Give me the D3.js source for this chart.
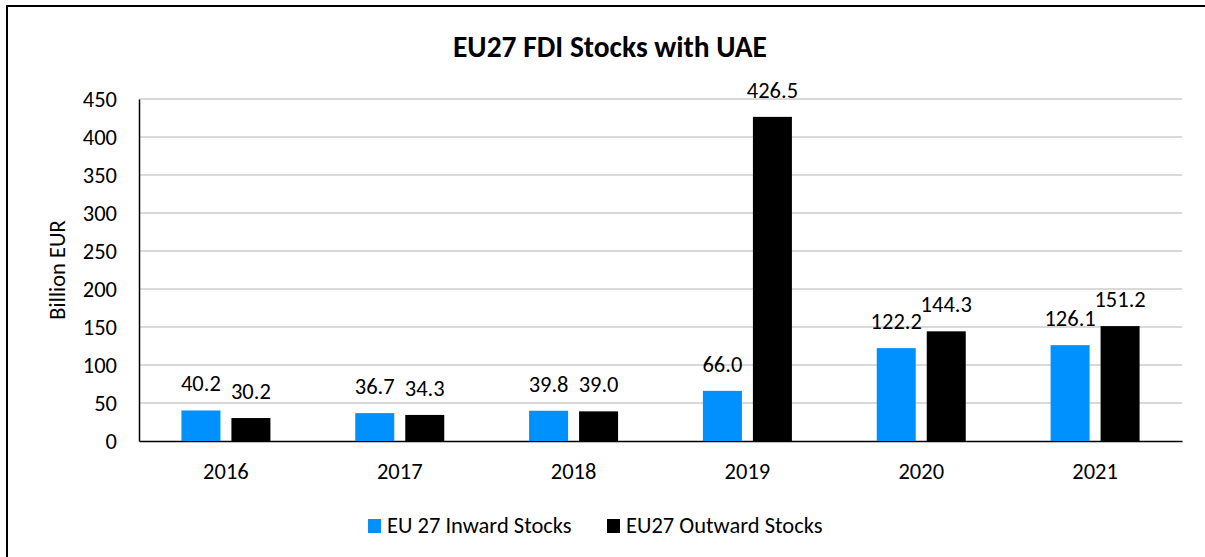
<!DOCTYPE html>
<html>
<head>
<meta charset="utf-8">
<script src="https://cdn.jsdelivr.net/npm/d3@7"></script>
<style>
  html, body { margin: 0; padding: 0; background: #fff; }
  svg text { font-family: Carlito, Calibri, Lato, sans-serif; fill: #000; }
</style>
</head>
<body>
<div class="Chart"></div>
<script>
var years = ["2016", "2017", "2018", "2019", "2020", "2021"];
var inward = [40.2, 36.7, 39.8, 66.0, 122.2, 126.1];
var outward = [30.2, 34.3, 39.0, 426.5, 144.3, 151.2];
var seriesNames = ["EU 27 Inward Stocks", "EU27 Outward Stocks"];
var seriesColors = ["#0091ff", "#000000"];
var yTicks = [0, 50, 100, 150, 200, 250, 300, 350, 400, 450];

var width = 1205, height = 557;
var margin = {left: 139, right: 23, top: 99, bottom: 116};

var svg = d3.select('.Chart').append('svg')
	.attr('width', width)
	.attr('height', height);

// outer frame (right and bottom edges fall outside the picture)
svg.append('rect')
	.attr('x', 7).attr('y', 6)
	.attr('width', 1230).attr('height', 600)
	.style('fill', 'none')
	.style('stroke', '#000')
	.style('stroke-width', 2);

var x = d3.scaleBand()
	.domain(years)
	.range([margin.left, width - margin.right]);

var y = d3.scaleLinear()
	.domain([0, 450])
	.range([height - margin.bottom, margin.top]);

//gridlines
svg.append('g').selectAll('line')
	.data(yTicks.slice(1))
	.enter().append('line')
	.attr('x1', margin.left).attr('x2', width - margin.right)
	.attr('y1', function(d) { return y(d); })
	.attr('y2', function(d) { return y(d); })
	.style('stroke', '#d9d9d9')
	.style('stroke-width', 2);

//y axis
var yAxis = svg.append('g')
	.attr('transform', 'translate(' + margin.left + ',0)')
	.call(d3.axisLeft(y).tickValues(yTicks).tickSize(0).tickPadding(22));
yAxis.select('.domain').style('stroke', '#000').style('stroke-width', 1.5);
yAxis.selectAll('text').style('font-size', '22.5px').attr('dy', '0.35em');

//x axis
var xAxis = svg.append('g')
	.attr('transform', 'translate(0,' + y(0) + ')')
	.call(d3.axisBottom(x).tickSize(0).tickPadding(22));
xAxis.select('.domain').style('stroke', '#000').style('stroke-width', 1.5);
xAxis.selectAll('text').style('font-size', '22.5px');

var barW = 39, gap = 11;
var offsets = [-(barW + gap) / 2, (barW + gap) / 2];

[inward, outward].forEach(function(values, s) {
	var g = svg.append('g');
	g.selectAll('rect')
		.data(values)
		.enter().append('rect')
		.attr('x', function(d, i) { return x(years[i]) + x.bandwidth() / 2 + offsets[s] - barW / 2; })
		.attr('y', function(d) { return y(d); })
		.attr('width', barW)
		.attr('height', function(d) { return y(0) - y(d); })
		.style('fill', seriesColors[s]);

	g.selectAll('text')
		.data(values)
		.enter().append('text')
		.attr('x', function(d, i) { return x(years[i]) + x.bandwidth() / 2 + offsets[s]; })
		.attr('y', function(d) { return y(d) - 19; })
		.attr('text-anchor', 'middle')
		.style('font-size', '22.5px')
		.text(function(d) { return d.toFixed(1); });
});

//title
svg.append('text')
	.attr('x', 610).attr('y', 57)
	.attr('text-anchor', 'middle')
	.style('font-size', '29.5px')
	.style('font-weight', 'bold')
	.text('EU27 FDI Stocks with UAE');

//y axis label
svg.append('text')
	.attr('transform', 'translate(65,270) rotate(-90)')
	.attr('text-anchor', 'middle')
	.style('font-size', '22.5px')
	.text('Billion EUR');

//legend
var legendX = [368, 607];
seriesNames.forEach(function(name, s) {
	svg.append('rect')
		.attr('x', legendX[s]).attr('y', 519)
		.attr('width', 13).attr('height', 14)
		.style('fill', seriesColors[s]);
	svg.append('text')
		.attr('x', legendX[s] + 19).attr('y', 533)
		.style('font-size', '22.5px')
		.text(name);
});
</script>
</body>
</html>
